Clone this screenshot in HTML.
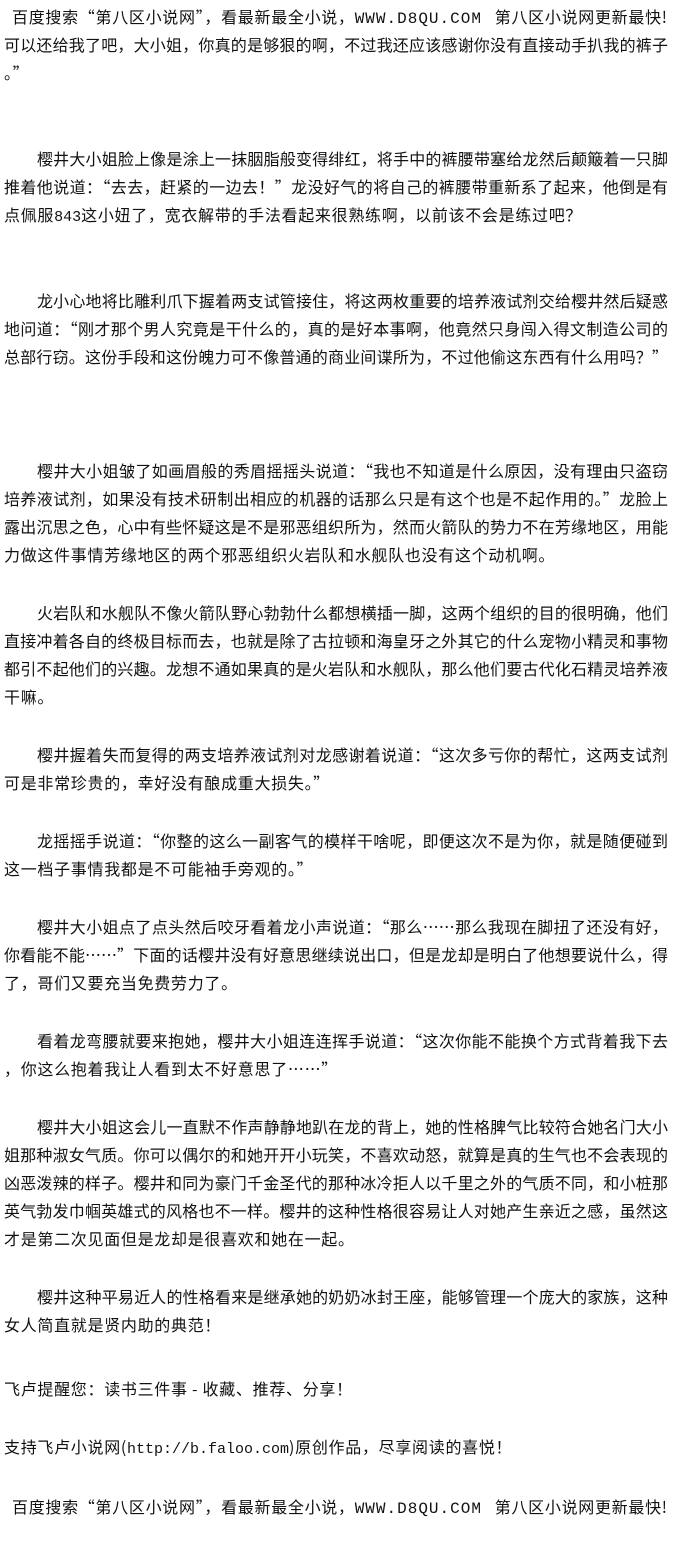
<!DOCTYPE html>
<html lang="zh-CN"><head><meta charset="utf-8"><style>
html,body{margin:0;padding:0;background:#fff;}
body{width:700px;height:1550px;position:relative;overflow:hidden;font-family:"Noto Sans CJK SC","Liberation Sans",sans-serif;font-size:16px;color:#111;}
.l{position:absolute;left:4px;height:28px;line-height:28px;white-space:nowrap;letter-spacing:0.7px;}
.i{left:37px;}
.j{width:664px;text-align:justify;text-align-last:justify;letter-spacing:0;}
.j.i{width:631px;}
.m{font-family:"Liberation Mono",monospace;font-size:15px;letter-spacing:0;}
.w{font-family:"Liberation Mono",monospace;font-size:16px;letter-spacing:1px;}
</style></head><body>
<div class="l" style="top:2px;left:12px;">百度搜索“第八区小说网”，看最新最全小说，<span class="w">WWW.D8QU.COM</span>&nbsp;&nbsp;&nbsp;第八区小说网更新最快!</div>
<div class="l j" style="top:30px;">可以还给我了吧，大小姐，你真的是够狠的啊，不过我还应该感谢你没有直接动手扒我的裤子</div>
<div class="l" style="top:58px;">。”</div>

<div class="l i j" style="top:144px;">樱井大小姐脸上像是涂上一抹胭脂般变得绯红，将手中的裤腰带塞给龙然后颠簸着一只脚</div>
<div class="l j" style="top:172px;">推着他说道：“去去，赶紧的一边去！”龙没好气的将自己的裤腰带重新系了起来，他倒是有</div>
<div class="l" style="top:200px;">点佩服<span class="m">843</span>这小妞了，宽衣解带的手法看起来很熟练啊，以前该不会是练过吧？</div>

<div class="l i j" style="top:286px;">龙小心地将比雕利爪下握着两支试管接住，将这两枚重要的培养液试剂交给樱井然后疑惑</div>
<div class="l j" style="top:314px;">地问道：“刚才那个男人究竟是干什么的，真的是好本事啊，他竟然只身闯入得文制造公司的</div>
<div class="l j" style="top:342px;">总部行窃。这份手段和这份魄力可不像普通的商业间谍所为，不过他偷这东西有什么用吗？”</div>

<div class="l i j" style="top:456px;">樱井大小姐皱了如画眉般的秀眉摇摇头说道：“我也不知道是什么原因，没有理由只盗窃</div>
<div class="l j" style="top:484px;">培养液试剂，如果没有技术研制出相应的机器的话那么只是有这个也是不起作用的。”龙脸上</div>
<div class="l j" style="top:512px;">露出沉思之色，心中有些怀疑这是不是邪恶组织所为，然而火箭队的势力不在芳缘地区，用能</div>
<div class="l" style="top:540px;">力做这件事情芳缘地区的两个邪恶组织火岩队和水舰队也没有这个动机啊。</div>

<div class="l i j" style="top:598px;">火岩队和水舰队不像火箭队野心勃勃什么都想横插一脚，这两个组织的目的很明确，他们</div>
<div class="l j" style="top:626px;">直接冲着各自的终极目标而去，也就是除了古拉顿和海皇牙之外其它的什么宠物小精灵和事物</div>
<div class="l j" style="top:654px;">都引不起他们的兴趣。龙想不通如果真的是火岩队和水舰队，那么他们要古代化石精灵培养液</div>
<div class="l" style="top:682px;">干嘛。</div>

<div class="l i j" style="top:740px;">樱井握着失而复得的两支培养液试剂对龙感谢着说道：“这次多亏你的帮忙，这两支试剂</div>
<div class="l" style="top:768px;">可是非常珍贵的，幸好没有酿成重大损失。”</div>

<div class="l i j" style="top:826px;">龙摇摇手说道：“你整的这么一副客气的模样干啥呢，即便这次不是为你，就是随便碰到</div>
<div class="l" style="top:854px;">这一档子事情我都是不可能袖手旁观的。”</div>

<div class="l i j" style="top:912px;">樱井大小姐点了点头然后咬牙看着龙小声说道：“那么……那么我现在脚扭了还没有好，</div>
<div class="l j" style="top:940px;">你看能不能……”下面的话樱井没有好意思继续说出口，但是龙却是明白了他想要说什么，得</div>
<div class="l" style="top:968px;">了，哥们又要充当免费劳力了。</div>

<div class="l i j" style="top:1026px;">看着龙弯腰就要来抱她，樱井大小姐连连挥手说道：“这次你能不能换个方式背着我下去</div>
<div class="l" style="top:1054px;">，你这么抱着我让人看到太不好意思了……”</div>

<div class="l i j" style="top:1112px;">樱井大小姐这会儿一直默不作声静静地趴在龙的背上，她的性格脾气比较符合她名门大小</div>
<div class="l j" style="top:1140px;">姐那种淑女气质。你可以偶尔的和她开开小玩笑，不喜欢动怒，就算是真的生气也不会表现的</div>
<div class="l j" style="top:1168px;">凶恶泼辣的样子。樱井和同为豪门千金圣代的那种冰冷拒人以千里之外的气质不同，和小桩那</div>
<div class="l j" style="top:1196px;">英气勃发巾帼英雄式的风格也不一样。樱井的这种性格很容易让人对她产生亲近之感，虽然这</div>
<div class="l" style="top:1224px;">才是第二次见面但是龙却是很喜欢和她在一起。</div>

<div class="l i j" style="top:1282px;">樱井这种平易近人的性格看来是继承她的奶奶冰封王座，能够管理一个庞大的家族，这种</div>
<div class="l" style="top:1310px;">女人简直就是贤内助的典范！</div>

<div class="l" style="top:1374px;">飞卢提醒您：读书三件事 - 收藏、推荐、分享！</div>
<div class="l" style="top:1432px;">支持飞卢小说网(<span class="m">http://b.faloo.com</span>)原创作品，尽享阅读的喜悦！</div>
<div class="l" style="top:1492px;left:12px;">百度搜索“第八区小说网”，看最新最全小说，<span class="w">WWW.D8QU.COM</span>&nbsp;&nbsp;&nbsp;第八区小说网更新最快!</div>
</body></html>
